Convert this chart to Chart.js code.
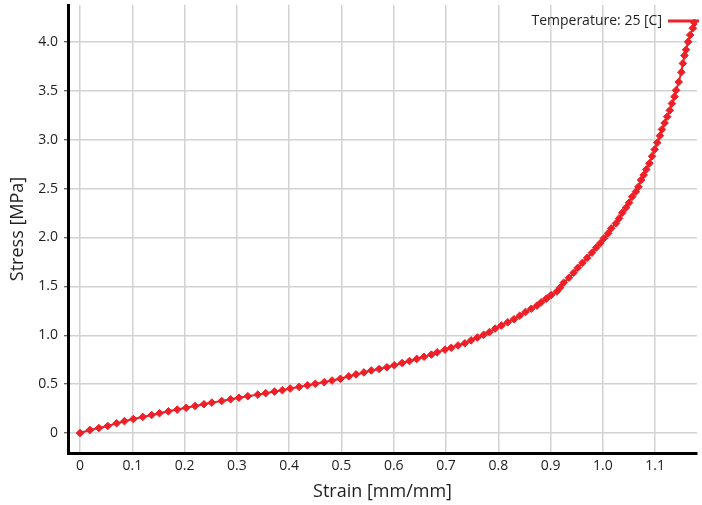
<!DOCTYPE html>
<html>
<head>
<meta charset="utf-8">
<script src="https://cdn.jsdelivr.net/npm/chart.js@4/dist/chart.umd.min.js"></script>
<style>
  html, body { margin: 0; padding: 0; background: #fff; }
  canvas { display: block; }
</style>
</head>
<body>
<canvas id="stressChart" width="702" height="505"></canvas>
<script>
// values
var strain = [
    0.000, 0.019, 0.036, 0.053, 0.070, 0.085, 0.102, 0.120, 0.137, 0.152,
    0.169, 0.186, 0.203, 0.220, 0.237, 0.252, 0.271, 0.288, 0.304, 0.321,
    0.340, 0.355, 0.372, 0.387, 0.402, 0.419, 0.435, 0.450, 0.467, 0.482,
    0.498, 0.514, 0.528, 0.543, 0.557, 0.572, 0.587, 0.601, 0.616, 0.630,
    0.644, 0.658, 0.672, 0.683, 0.698, 0.710, 0.723, 0.736, 0.748, 0.760,
    0.772, 0.783, 0.794, 0.806, 0.818, 0.830, 0.841, 0.852, 0.863, 0.874,
    0.882, 0.892, 0.901, 0.912, 0.918, 0.925, 0.935, 0.944, 0.952, 0.961,
    0.970, 0.979, 0.987, 0.995, 1.002, 1.010, 1.016, 1.025, 1.031, 1.037,
    1.044, 1.050, 1.056, 1.063, 1.068, 1.073, 1.078, 1.083, 1.089, 1.094,
    1.099, 1.104, 1.109, 1.113, 1.118, 1.123, 1.128, 1.132, 1.137, 1.140,
    1.145, 1.150, 1.153, 1.156, 1.159, 1.163, 1.167, 1.172, 1.175
];
var stress = [
    0.000, 0.031, 0.051, 0.072, 0.100, 0.122, 0.143, 0.165, 0.185, 0.203,
    0.222, 0.240, 0.258, 0.277, 0.295, 0.311, 0.328, 0.345, 0.361, 0.377,
    0.393, 0.408, 0.424, 0.438, 0.455, 0.472, 0.488, 0.504, 0.520, 0.537,
    0.555, 0.580, 0.600, 0.620, 0.640, 0.655, 0.673, 0.693, 0.716, 0.736,
    0.758, 0.780, 0.802, 0.825, 0.853, 0.872, 0.896, 0.918, 0.948, 0.977,
    1.005, 1.032, 1.068, 1.100, 1.132, 1.164, 1.200, 1.238, 1.271, 1.303,
    1.337, 1.375, 1.411, 1.447, 1.485, 1.537, 1.588, 1.639, 1.690, 1.741,
    1.792, 1.844, 1.895, 1.942, 1.991, 2.042, 2.093, 2.144, 2.195, 2.253,
    2.304, 2.355, 2.416, 2.467, 2.518, 2.587, 2.638, 2.696, 2.758, 2.830,
    2.900, 2.970, 3.040, 3.105, 3.170, 3.235, 3.300, 3.370, 3.440, 3.505,
    3.590, 3.690, 3.780, 3.860, 3.920, 4.000, 4.070, 4.140, 4.195
];
var xTicks = [0, 0.1, 0.2, 0.3, 0.4, 0.5, 0.6, 0.7, 0.8, 0.9, 1.0, 1.1];
var yTicks = [0, 0.5, 1.0, 1.5, 2.0, 2.5, 3.0, 3.5, 4.0];
var seriesName = 'Temperature: 25 [C]';

var red = '#ee1f27';
var textColor = '#1e1e1e';
var font = '"Open Sans", "Noto Sans", sans-serif';

var points = strain.map(function (x, i) {
    return { x: x, y: stress[i] };
});

function fmt(v) {
    return v === 0 ? '0' : v.toFixed(1);
}

// move the legend into the top right corner of the plot, like the original
var legendCorner = {
    id: 'legendCorner',
    afterLayout: function (chart) {
        var lg = chart.legend;
        lg.left = chart.chartArea.right + 11 - lg.width;
        lg.right = lg.left + lg.width;
        lg.top += 4;
        lg.bottom += 4;
    }
};

new Chart(document.getElementById('stressChart'), {
    type: 'scatter',
    data: {
        datasets: [{
            label: seriesName,
            data: points,
            showLine: true,
            borderColor: red,
            backgroundColor: red,
            borderWidth: 2,
            pointStyle: 'rectRot',
            pointRadius: 3.8,
            pointBorderWidth: 1,
            pointBackgroundColor: red,
            pointBorderColor: red,
            tension: 0
        }]
    },
    options: {
        responsive: false,
        animation: false,
        layout: { padding: { top: 5, right: 0, left: 0, bottom: 0 } },
        plugins: {
            tooltip: { enabled: false },
            legend: {
                position: 'chartArea',
                align: 'start',
                rtl: true,
                labels: {
                    boxWidth: 29,
                    boxHeight: 1,
                    padding: 10,
                    color: textColor,
                    font: { family: font, size: 14 }
                }
            }
        },
        scales: {
            x: {
                type: 'linear',
                min: -0.023,
                max: 1.18,
                afterBuildTicks: function (scale) {
                    scale.ticks = xTicks.map(function (v) { return { value: v }; });
                },
                afterFit: function (scale) {
                    scale.height = 52;
                    scale.paddingLeft = 0;
                    scale.paddingRight = 0;
                },
                ticks: {
                    color: textColor,
                    padding: 5,
                    maxRotation: 0,
                    font: { family: font, size: 14 },
                    callback: function (v) { return fmt(v); }
                },
                grid: { color: '#d2d2d2', lineWidth: 1.5, drawTicks: false },
                border: { color: '#000', width: 3 },
                title: {
                    display: true,
                    text: 'Strain [mm/mm]',
                    color: textColor,
                    font: { family: font, size: 18 },
                    padding: { top: 2, bottom: 2 }
                }
            },
            y: {
                type: 'linear',
                min: -0.204,
                max: 4.377,
                afterBuildTicks: function (scale) {
                    scale.ticks = yTicks.map(function (v) { return { value: v }; });
                },
                afterFit: function (scale) {
                    scale.width = 68;
                    scale.paddingTop = 0;
                    scale.paddingBottom = 0;
                },
                ticks: {
                    color: textColor,
                    padding: 6,
                    font: { family: font, size: 14 },
                    callback: function (v) { return fmt(v); }
                },
                grid: { color: '#d2d2d2', lineWidth: 1.5, tickLength: 4, tickColor: '#333', tickWidth: 1 },
                border: { color: '#000', width: 3 },
                title: {
                    display: true,
                    text: 'Stress [MPa]',
                    color: textColor,
                    font: { family: font, size: 18 },
                    padding: { top: 7, bottom: 0 }
                }
            }
        }
    },
    plugins: [legendCorner]
});
</script>
</body>
</html>
